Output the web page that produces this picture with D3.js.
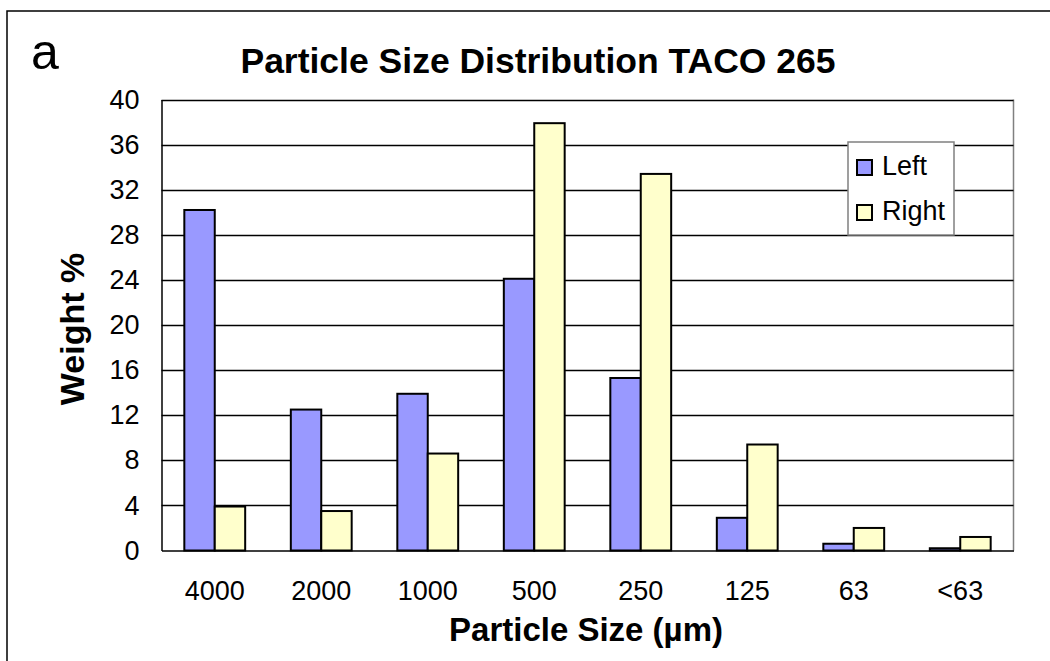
<!DOCTYPE html>
<html>
<head>
<meta charset="utf-8">
<script src="https://cdn.jsdelivr.net/npm/d3@7"></script>
<style>
  html, body { margin: 0; padding: 0; background: #fff; }
  svg { display: block; font-family: "Liberation Sans", Arial, sans-serif; }
</style>
</head>
<body>
<svg id="chart" width="1050" height="661"></svg>
<script>
const categories = ["4000", "2000", "1000", "500", "250", "125", "63", "<63"];
const seriesNames = ["Left", "Right"];
const leftValues  = [30.2, 12.5, 13.9, 24.1, 15.3, 2.9, 0.6, 0.2];
const rightValues = [3.9, 3.5, 8.6, 37.9, 33.4, 9.4, 2.0, 1.2];
const yTicks = [0, 4, 8, 12, 16, 20, 24, 28, 32, 36, 40];
const seriesColors = ["#9999FF", "#FFFFCC"];

const svg = d3.select("#chart");
const plot = { left: 161.5, right: 1013.5, top: 99.5, bottom: 550.5 };

const x0 = d3.scaleBand().domain(categories).range([plot.left, plot.right]).padding(0);
const x1 = d3.scaleBand().domain(seriesNames).range([0, x0.bandwidth()])
  .paddingInner(0).paddingOuter(0.75);
const y = d3.scaleLinear().domain([0, 40]).range([plot.bottom, plot.top]);
const color = d3.scaleOrdinal().domain(seriesNames).range(seriesColors);

// outer frame (left + top)
svg.append("path")
  .attr("d", "M7,661 L7,11 L1050,11")
  .attr("fill", "none").attr("stroke", "#000").attr("stroke-width", 1.5);

// panel letter
svg.append("text").attr("x", 31).attr("y", 69)
  .attr("font-size", 50).attr("fill", "#000").text("a");

// title
svg.append("text").attr("x", 538).attr("y", 73)
  .attr("text-anchor", "middle").attr("font-size", 35.5).attr("font-weight", "bold")
  .text("Particle Size Distribution TACO 265");

// plot area right border (gray)
svg.append("line")
  .attr("x1", plot.right).attr("x2", plot.right)
  .attr("y1", plot.top).attr("y2", plot.bottom)
  .attr("stroke", "#808080").attr("stroke-width", 1.5);

// gridlines
svg.append("g").selectAll("line").data(yTicks.filter(d => d > 0)).join("line")
  .attr("x1", plot.left).attr("x2", plot.right)
  .attr("y1", d => Math.round(y(d)) + 0.5).attr("y2", d => Math.round(y(d)) + 0.5)
  .attr("stroke", "#000").attr("stroke-width", 1.3);

// y axis
const yAxis = d3.axisLeft(y).tickValues(yTicks).tickSize(0).tickPadding(22);
const gy = svg.append("g").attr("transform", `translate(${plot.left},0)`).call(yAxis);
gy.select(".domain").attr("stroke", "#000").attr("stroke-width", 1.5);
gy.selectAll("text").attr("font-size", 27).attr("fill", "#000")
  .attr("font-family", "'Liberation Sans', Arial, sans-serif");

// bars
const groups = svg.append("g").selectAll("g").data(categories).join("g")
  .attr("transform", d => `translate(${x0(d)},0)`);
groups.selectAll("rect")
  .data((d, i) => seriesNames.map((s, j) => ({ s, v: j === 0 ? leftValues[i] : rightValues[i] })))
  .join("rect")
  .attr("x", d => x1(d.s))
  .attr("width", x1.bandwidth())
  .attr("y", d => y(d.v))
  .attr("height", d => y(0) - y(d.v))
  .attr("fill", d => color(d.s))
  .attr("stroke", "#000").attr("stroke-width", 2);

// x axis
const xAxis = d3.axisBottom(x0).tickSize(0).tickPadding(30);
const gx = svg.append("g").attr("transform", `translate(0,${plot.bottom})`).call(xAxis);
gx.select(".domain").attr("stroke", "#000").attr("stroke-width", 1.5);
gx.selectAll("text").attr("font-size", 27).attr("fill", "#000")
  .attr("font-family", "'Liberation Sans', Arial, sans-serif");

// axis titles
svg.append("text").attr("x", 586).attr("y", 641)
  .attr("text-anchor", "middle").attr("font-size", 33).attr("font-weight", "bold")
  .text("Particle Size (µm)");
svg.append("text")
  .attr("transform", "translate(84,329) rotate(-90)")
  .attr("text-anchor", "middle").attr("font-size", 34).attr("font-weight", "bold")
  .text("Weight %");

// legend
const legend = svg.append("g");
legend.append("rect").attr("x", 848).attr("y", 142).attr("width", 106).attr("height", 93)
  .attr("fill", "#fff").attr("stroke", "#808080").attr("stroke-width", 1.5);
const li = legend.selectAll("g.item").data(seriesNames).join("g").attr("class", "item")
  .attr("transform", (d, i) => `translate(857,${160 + i * 45})`);
li.append("rect").attr("width", 15).attr("height", 15)
  .attr("fill", d => color(d)).attr("stroke", "#000").attr("stroke-width", 2);
li.append("text").attr("x", 25).attr("y", 14.5).attr("font-size", 27).text(d => d);
</script>
</body>
</html>
